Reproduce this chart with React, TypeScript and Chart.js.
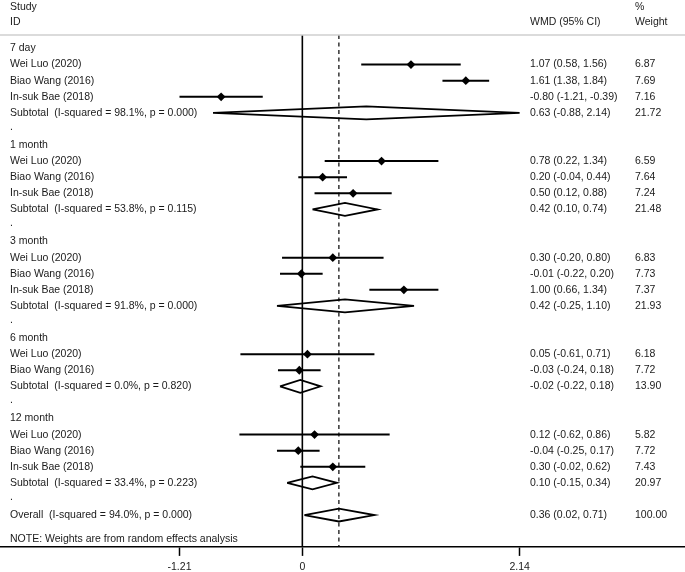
import React, { useEffect, useRef } from 'react';
import { Chart, registerables } from 'chart.js';

Chart.register(...registerables);

// ---------- data ----------
const groupLabels = ['7 day', '1 month', '3 month', '6 month', '12 month'];
const groupRows = [0, 6, 12, 18, 23];
const spacerRows = [5, 11, 17, 22, 28];

const studyLabels = [
  'Wei Luo (2020)', 'Biao Wang (2016)', 'In-suk Bae (2018)',
  'Wei Luo (2020)', 'Biao Wang (2016)', 'In-suk Bae (2018)',
  'Wei Luo (2020)', 'Biao Wang (2016)', 'In-suk Bae (2018)',
  'Wei Luo (2020)', 'Biao Wang (2016)',
  'Wei Luo (2020)', 'Biao Wang (2016)', 'In-suk Bae (2018)',
];
const studyRows = [1, 2, 3, 7, 8, 9, 13, 14, 15, 19, 20, 24, 25, 26];
const studyEst = [1.07, 1.61, -0.8, 0.78, 0.2, 0.5, 0.3, -0.01, 1.0, 0.05, -0.03, 0.12, -0.04, 0.3];
const studyLo = [0.58, 1.38, -1.21, 0.22, -0.04, 0.12, -0.2, -0.22, 0.66, -0.61, -0.24, -0.62, -0.25, -0.02];
const studyHi = [1.56, 1.84, -0.39, 1.34, 0.44, 0.88, 0.8, 0.2, 1.34, 0.71, 0.18, 0.86, 0.17, 0.62];
const studyWeight = ['6.87', '7.69', '7.16', '6.59', '7.64', '7.24', '6.83', '7.73', '7.37', '6.18', '7.72', '5.82', '7.72', '7.43'];

const subtotalLabels = [
  'Subtotal  (I-squared = 98.1%, p = 0.000)',
  'Subtotal  (I-squared = 53.8%, p = 0.115)',
  'Subtotal  (I-squared = 91.8%, p = 0.000)',
  'Subtotal  (I-squared = 0.0%, p = 0.820)',
  'Subtotal  (I-squared = 33.4%, p = 0.223)',
];
const subtotalRows = [4, 10, 16, 21, 27];
const subtotalEst = [0.63, 0.42, 0.42, -0.02, 0.1];
const subtotalLo = [-0.88, 0.1, -0.25, -0.22, -0.15];
const subtotalHi = [2.14, 0.74, 1.1, 0.18, 0.34];
const subtotalWeight = ['21.72', '21.48', '21.93', '13.90', '20.97'];

const overallLabel = 'Overall  (I-squared = 94.0%, p = 0.000)';
const overallRow = 29;
const overallEst = 0.36;
const overallLo = 0.02;
const overallHi = 0.71;
const overallWeight = '100.00';

const noteLabel = 'NOTE: Weights are from random effects analysis';
const noteRow = 30.5;

const axisTicks = [-1.21, 0, 2.14];

// ---------- layout constants ----------
const X_MIN = -2.978;
const X_MAX = 3.769;
const Y_MIN = -0.84;
const Y_MAX = 30.98;
const DIAMOND_H = 0.4;
const FONT = '10.5px "Liberation Sans", Arial, sans-serif';
const TEXT_COLOR = '#1a1a1a';

const fmt = (e: number, l: number, h: number) =>
  `${e.toFixed(2)} (${l.toFixed(2)}, ${h.toFixed(2)})`;

const textPlugin = {
  id: 'forestText',
  afterDraw(chart: any) {
    const { ctx, chartArea, scales } = chart;
    const y = scales.y;
    const colLabel = 10;
    const colWmd = 530;
    const colW = 635;
    ctx.save();
    // top grey rule
    ctx.strokeStyle = '#cfcfcf';
    ctx.lineWidth = 1.5;
    ctx.beginPath();
    ctx.moveTo(0, chartArea.top);
    ctx.lineTo(chart.width, chartArea.top);
    ctx.stroke();

    ctx.font = FONT;
    ctx.fillStyle = TEXT_COLOR;
    ctx.textBaseline = 'middle';
    ctx.textAlign = 'left';
    // headers
    ctx.fillText('Study', colLabel, chartArea.top - 28);
    ctx.fillText('ID', colLabel, chartArea.top - 12.5);
    ctx.fillText('WMD (95% CI)', colWmd, chartArea.top - 12.5);
    ctx.fillText('%', colW, chartArea.top - 28);
    ctx.fillText('Weight', colW, chartArea.top - 12.5);

    groupLabels.forEach((g, i) => ctx.fillText(g, colLabel, y.getPixelForValue(groupRows[i])));
    spacerRows.forEach((r) => ctx.fillText('.', colLabel, y.getPixelForValue(r) - 2));
    studyLabels.forEach((s, i) => {
      const py = y.getPixelForValue(studyRows[i]);
      ctx.fillText(s, colLabel, py);
      ctx.fillText(fmt(studyEst[i], studyLo[i], studyHi[i]), colWmd, py);
      ctx.fillText(studyWeight[i], colW, py);
    });
    subtotalLabels.forEach((s, i) => {
      const py = y.getPixelForValue(subtotalRows[i]);
      ctx.fillText(s, colLabel, py);
      ctx.fillText(fmt(subtotalEst[i], subtotalLo[i], subtotalHi[i]), colWmd, py);
      ctx.fillText(subtotalWeight[i], colW, py);
    });
    {
      const py = y.getPixelForValue(overallRow);
      ctx.fillText(overallLabel, colLabel, py);
      ctx.fillText(fmt(overallEst, overallLo, overallHi), colWmd, py);
      ctx.fillText(overallWeight, colW, py);
    }
    ctx.fillText(noteLabel, colLabel, y.getPixelForValue(noteRow));
    ctx.restore();
  },
};

export default function App() {
  const ref = useRef<HTMLCanvasElement | null>(null);

  useEffect(() => {
    if (!ref.current) return;
    const datasets: any[] = [];

    datasets.push({
      data: [{ x: 0, y: Y_MIN }, { x: 0, y: Y_MAX }],
      showLine: true, borderColor: '#000', borderWidth: 1.6, pointRadius: 0,
    });
    datasets.push({
      data: [{ x: overallEst, y: Y_MIN }, { x: overallEst, y: Y_MAX }],
      showLine: true, borderColor: '#000', borderWidth: 1.2, borderDash: [4, 3.5], pointRadius: 0,
    });

    studyRows.forEach((r, i) => {
      datasets.push({
        data: [{ x: studyLo[i], y: r }, { x: studyHi[i], y: r }],
        showLine: true, borderColor: '#000', borderWidth: 2, pointRadius: 0,
      });
    });

    const diamond = (r: number, e: number, l: number, h: number) => ({
      data: [
        { x: l, y: r }, { x: e, y: r - DIAMOND_H }, { x: h, y: r },
        { x: e, y: r + DIAMOND_H }, { x: l, y: r },
      ],
      showLine: true, borderColor: '#000', borderWidth: 1.8, pointRadius: 0,
      fill: false, tension: 0, borderJoinStyle: 'miter',
    });
    subtotalRows.forEach((r, i) => datasets.push(diamond(r, subtotalEst[i], subtotalLo[i], subtotalHi[i])));
    datasets.push(diamond(overallRow, overallEst, overallLo, overallHi));

    datasets.push({
      data: studyRows.map((r, i) => ({ x: studyEst[i], y: r })),
      showLine: false, pointStyle: 'rectRot', pointRadius: 4.4,
      backgroundColor: '#000', borderColor: '#000', borderWidth: 0,
    });

    const chart = new Chart(ref.current, {
      type: 'scatter',
      data: { datasets },
      options: {
        responsive: false,
        animation: false,
        devicePixelRatio: 1,
        layout: { autoPadding: false, padding: { top: 35, left: 0, right: 0, bottom: -6.5 } },
        plugins: { legend: { display: false }, tooltip: { enabled: false } },
        scales: {
          x: {
            type: 'linear',
            min: X_MIN,
            max: X_MAX,
            afterBuildTicks: (axis: any) => {
              axis.ticks = axisTicks.map((v) => ({ value: v }));
            },
            afterFit: (axis: any) => {
              axis.paddingLeft = 0;
              axis.paddingRight = 0;
            },
            ticks: {
              callback: (v: any) => String(v),
              font: { family: '"Liberation Sans", Arial, sans-serif', size: 10.5 },
              color: TEXT_COLOR,
              padding: 5,
              maxRotation: 0,
              autoSkip: false,
            },
            grid: { drawOnChartArea: false, drawTicks: true, tickLength: 9, tickColor: '#000', tickWidth: 1.5 },
            border: { display: true, color: '#000', width: 1.5 },
          },
          y: { type: 'linear', min: Y_MIN, max: Y_MAX, reverse: true, display: false },
        },
      } as any,
      plugins: [textPlugin],
    });
    return () => chart.destroy();
  }, []);

  return (
    <div style={{ position: 'absolute', left: 0, top: 0, width: 685, height: 572, background: '#fff' }}>
      <canvas ref={ref} width={685} height={572} style={{ width: 685, height: 572, display: 'block' }} />
    </div>
  );
}
